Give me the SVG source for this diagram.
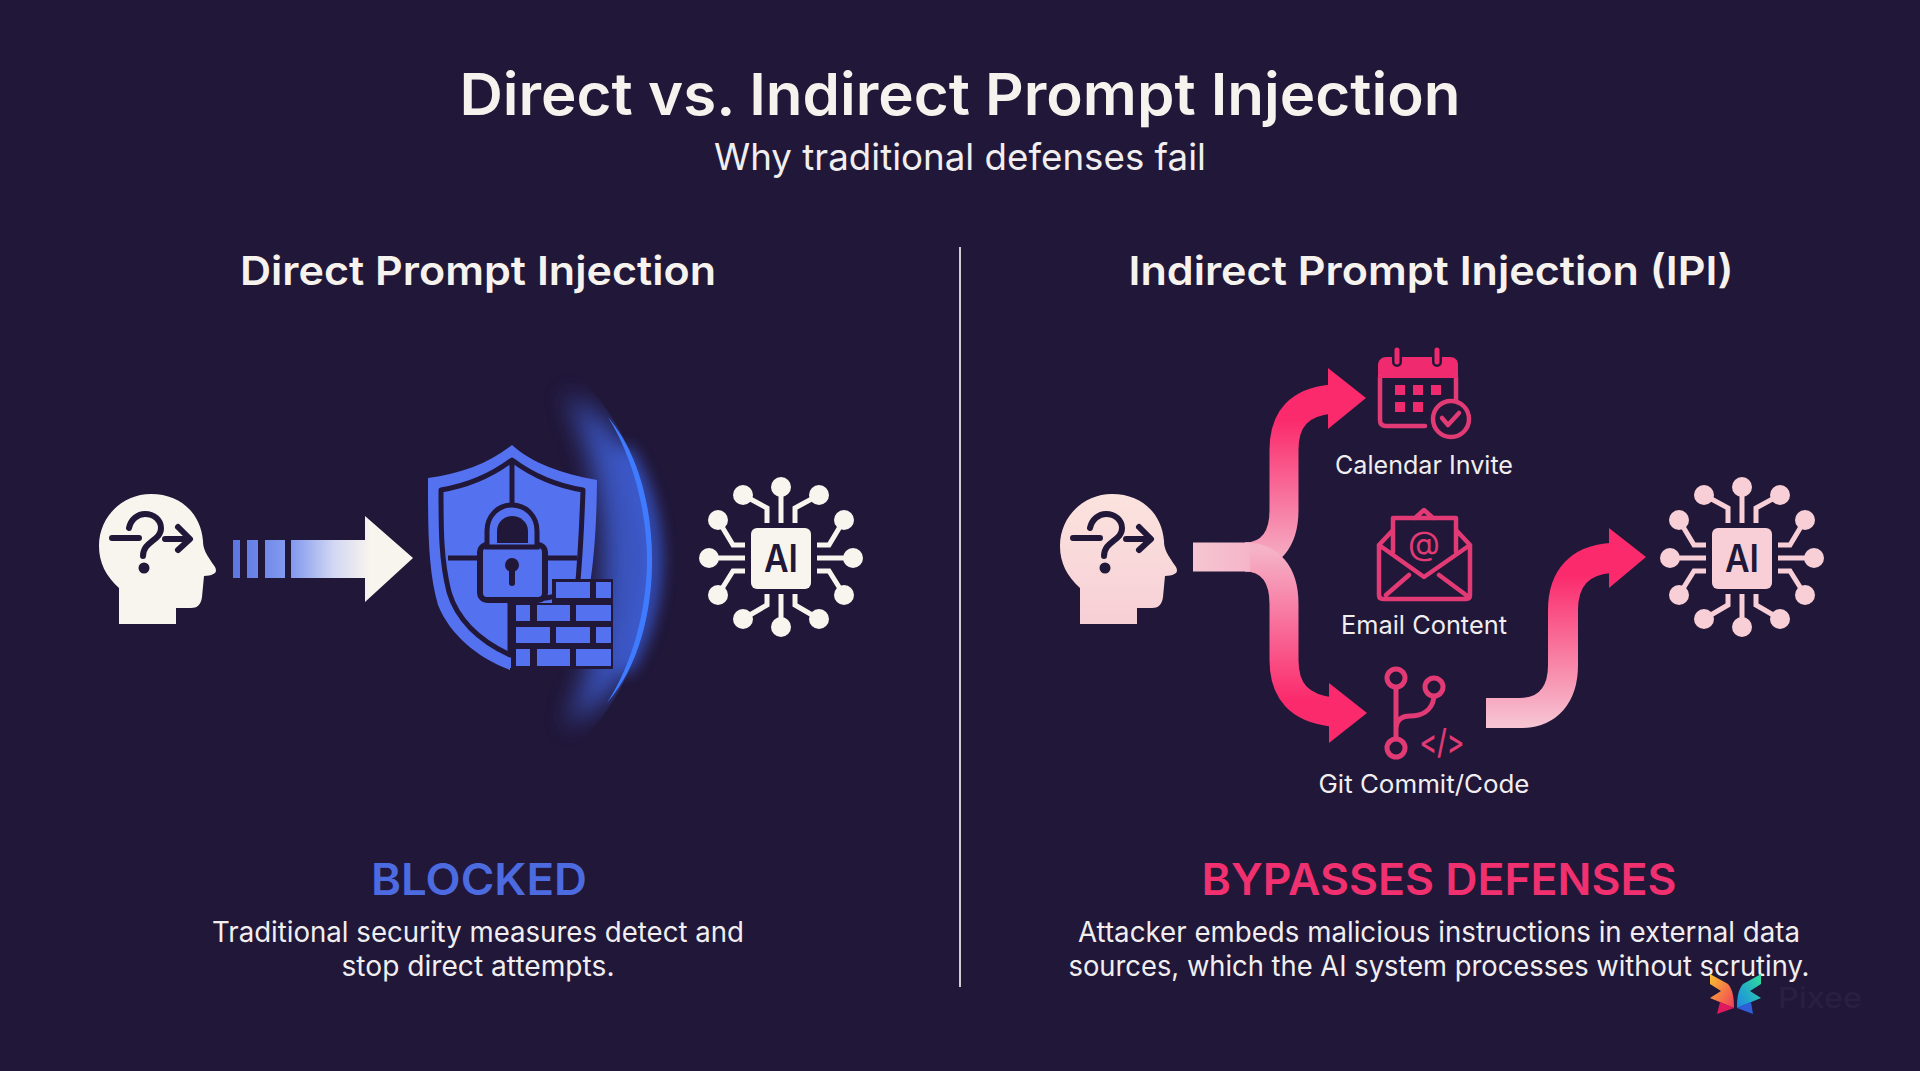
<svg xmlns="http://www.w3.org/2000/svg" width="1920" height="1071" viewBox="0 0 1920 1071">
<style>
text{font-family:Inter,"Liberation Sans",sans-serif;text-anchor:middle}
.t{fill:#f6f2ee;font-weight:600}
.s{fill:#f1eef0;font-weight:400}
.l{fill:#f1eef0;font-weight:400;font-size:25px}
.k{fill:none;stroke:#211738;stroke-linecap:round;stroke-linejoin:round}
.p{fill:none;stroke:#e23a74;stroke-width:4.500;stroke-linecap:round;stroke-linejoin:round}
.b{fill:#5471f0}
.d{fill:#211738}
</style>
<defs>
<path id="head" d="M119 624V588C106 576 99 563 99 546C99 516 123 494 151 494C181 494 201 514 203 541C203 549 206 554 215 567C218 573 214 575 204 576L202 597C201 605 197 608 191 608L176 608V624Z"/>
<g id="marks">
<path class="k" stroke-width="6" d="M112 538H139M129 528C131 519 138 514 145 514C154 514 161 520 161 528C161 541 143 541 143 556M165 539H189M178 527L190 539L178 550"/>
<circle class="d" cx="144" cy="568" r="5.500"/>
</g>
<g id="chip">
<g fill="none" stroke="currentColor" stroke-width="5">
<path d="M0-71V-35M-38-63L-14-50V-35M38-63L14-50V-35M-63-38L-48-13H-36M63-38L48-13H36M-72 0H-36M72 0H36M-63 37L-48 13H-36M63 37L48 13H36M-38 61L-14 47V36M38 61L14 47V36M0 69V36"/>
</g>
<g fill="currentColor">
<rect x="-30" y="-30" width="60" height="61" rx="6"/>
<circle cx="0" cy="-71" r="10"/><circle cx="-38" cy="-63" r="10"/><circle cx="38" cy="-63" r="10"/>
<circle cx="-63" cy="-38" r="10"/><circle cx="63" cy="-38" r="10"/><circle cx="-72" cy="0" r="10"/><circle cx="72" cy="0" r="10"/>
<circle cx="-63" cy="37" r="10"/><circle cx="63" cy="37" r="10"/><circle cx="-38" cy="61" r="10"/><circle cx="38" cy="61" r="10"/><circle cx="0" cy="69" r="10"/>
</g>
</g>
<linearGradient id="shaft" gradientUnits="userSpaceOnUse" x1="291" y1="0" x2="370" y2="0"><stop offset="0" stop-color="#8198ee"/><stop offset="0.55" stop-color="#d3d8f2"/><stop offset="1" stop-color="#f8f4ee"/></linearGradient>
<linearGradient id="stripes" gradientUnits="userSpaceOnUse" x1="233" y1="0" x2="285" y2="0"><stop offset="0" stop-color="#5b75e2"/><stop offset="1" stop-color="#8199ee"/></linearGradient>
<linearGradient id="headPink" x1="0" y1="0" x2="0" y2="1"><stop offset="0" stop-color="#fbe3de"/><stop offset="1" stop-color="#f7cfd6"/></linearGradient>
<linearGradient id="up" gradientUnits="userSpaceOnUse" x1="0" y1="565" x2="0" y2="420"><stop offset="0" stop-color="#f5b3c8"/><stop offset="1" stop-color="#fb2a6c"/></linearGradient>
<linearGradient id="down" gradientUnits="userSpaceOnUse" x1="0" y1="550" x2="0" y2="700"><stop offset="0" stop-color="#f5b3c8"/><stop offset="1" stop-color="#fb2a6c"/></linearGradient>
<linearGradient id="stem" gradientUnits="userSpaceOnUse" x1="1193" y1="0" x2="1250" y2="0"><stop offset="0" stop-color="#f6c6d2"/><stop offset="1" stop-color="#f5b5c9"/></linearGradient>
<linearGradient id="out" gradientUnits="userSpaceOnUse" x1="0" y1="725" x2="0" y2="575"><stop offset="0" stop-color="#f6c4d2"/><stop offset="1" stop-color="#fb2a6c"/></linearGradient>
<linearGradient id="wl" x1="0" y1="0" x2="1" y2="1"><stop offset="0" stop-color="#f8c32c"/><stop offset="1" stop-color="#f23a5c"/></linearGradient>
<linearGradient id="wr" x1="1" y1="0" x2="0" y2="1"><stop offset="0" stop-color="#2fe09a"/><stop offset="1" stop-color="#1c86e6"/></linearGradient>
<clipPath id="inside"><path d="M540 360H560C625 410 652 490 652 560C652 630 625 710 560 760H540Z"/></clipPath>
<filter id="b14" x="-80%" y="-20%" width="260%" height="140%"><feGaussianBlur stdDeviation="13"/></filter>
<filter id="b8" x="-150%" y="-20%" width="400%" height="140%"><feGaussianBlur stdDeviation="8"/></filter>
</defs>

<rect id="background" width="1920" height="1071" fill="#211738"/>

<g id="title">
<text class="t" x="960" y="115" font-size="58" textLength="1001" lengthAdjust="spacingAndGlyphs">Direct vs. Indirect Prompt Injection</text>
<text class="s" x="960" y="170" font-size="37" textLength="492" lengthAdjust="spacingAndGlyphs">Why traditional defenses fail</text>
</g>
<line id="divider" x1="960" y1="247" x2="960" y2="987" stroke="#cfccd6" stroke-width="2"/>

<g id="direct-heading"><text class="t" x="478" y="285" font-size="40" textLength="476" lengthAdjust="spacingAndGlyphs">Direct Prompt Injection</text></g>
<g id="indirect-heading"><text class="t" x="1431" y="285" font-size="40" textLength="605" lengthAdjust="spacingAndGlyphs">Indirect Prompt Injection (IPI)</text></g>

<g id="attacker-left">
<use href="#head" fill="#f8f4ee"/><use href="#marks"/>
</g>

<g id="connectors">
<g id="direct-arrow">
<path fill="url(#stripes)" d="M233 540h7v38h-7zM247 540h11v38h-11zM265 540h20v38h-20z"/>
<path fill="url(#shaft)" d="M291 540H365V516L413 558L365 602V578H291Z"/>
</g>
<g id="fork-arrows" fill="none" stroke-width="29">
<path stroke="url(#up)" d="M1245 557C1270 557 1284 540 1284 510V450C1284 418 1300 402 1332 399"/>
<path stroke="url(#down)" d="M1245 557C1270 557 1284 574 1284 604V660C1284 692 1300 708 1332 712"/>
<path stroke="url(#stem)" d="M1193 557H1250"/>
<path fill="#fb2a6c" stroke="none" d="M1328 368L1366 398L1328 429Z"/>
<path fill="#fb2a6c" stroke="none" d="M1329 683L1367 713L1329 743Z"/>
</g>
<g id="out-arrow" fill="none">
<path stroke="url(#out)" stroke-width="30" d="M1486 713H1520C1548 713 1563 695 1563 665V610C1563 578 1580 560 1611 558"/>
<path fill="#fb2a6c" d="M1609 528L1646 557L1609 588Z"/>
</g>
</g>

<g id="shield">
<path d="M622 450C644 485 653 525 653 560C653 595 644 635 622 670" fill="none" stroke="#3a62e8" stroke-width="16" opacity="0.85" filter="url(#b8)"/>
<g clip-path="url(#inside)">
<path d="M565 392C630 435 672 495 672 560C672 625 630 685 565 728C590 680 603 620 603 560C603 500 590 440 565 392Z" fill="#3f60d8" opacity="0.85" filter="url(#b14)"/>
</g>
<path d="M608 417C640 455 652 510 652 560C652 610 640 665 607 703C632 665 647 610 647 560C647 510 632 455 608 417Z" fill="#3f7bff"/>
<path class="b" d="M512 445C490 463 460 474 428 478C428 530 428 570 438 605C450 635 478 658 510 670V668H540C572 668 596 620 597 480C562 474 532 463 512 445Z"/>
<path d="M512 460C492 475 466 486 441 490C441 530 441 560 449 592C458 622 482 642 510 655V598H546L577 592C580 560 582 520 583 490C558 486 532 475 512 460Z" fill="#5471f0" stroke="#211738" stroke-width="5" stroke-linejoin="round"/>
<path d="M512 460V505M448 558H478M547 558H577" stroke="#211738" stroke-width="5" fill="none"/>
<path class="d" d="M511 603H613V669H511ZM552 579H613V604H552Z"/>
<path class="b" d="M556 582h34v16h-34zM596 582h15v16h-15zM516 605h14v16h-14zM537 605h33v16h-33zM576 605h35v16h-35zM516 627h34v16h-34zM556 627h34v16h-34zM596 627h15v16h-15zM516 649h14v17h-14zM537 649h33v17h-33zM576 649h35v17h-35z"/>
<rect class="b" x="480" y="545" width="65" height="55" rx="7" stroke="#211738" stroke-width="6"/>
<path class="b" stroke="#211738" stroke-width="5" d="M487 547V531C487 516 498 505 512 505C526 505 537 516 537 531V547Z"/>
<path class="d" d="M497 543V531C497 522 504 516 512 516C520 516 528 522 528 531V543Z"/>
<circle class="d" cx="512" cy="565" r="7"/>
<path d="M512 567V583" stroke="#211738" stroke-width="6" stroke-linecap="round"/>
</g>

<g id="ai-left" color="#f8f4ee">
<use href="#chip" x="781" y="558"/>
<text x="781" y="572" font-size="38" font-weight="600" fill="#211738" textLength="34" lengthAdjust="spacingAndGlyphs">AI</text>
</g>

<g id="attacker-right">
<use href="#head" x="961" fill="url(#headPink)"/><use href="#marks" x="961"/>
</g>

<g id="calendar">
<path d="M1378 377V365C1378 360 1382 357 1386 357H1450C1455 357 1458 360 1458 365V377Z" fill="#f02a6e"/>
<path class="p" d="M1380 377V420C1380 424 1382 426 1386 426H1425M1456 377V400"/>
<path d="M1378 377H1458" stroke="#f02a6e" stroke-width="2"/>
<path d="M1397 350V362M1437 350V362" stroke="#211738" stroke-width="10" stroke-linecap="round"/>
<path d="M1397 350V362M1437 350V362" stroke="#f02a6e" stroke-width="5" stroke-linecap="round"/>
<path fill="#f02a6e" d="M1395 385h10v10h-10zM1413 385h10v10h-10zM1431 385h10v10h-10zM1395 402h10v10h-10zM1413 402h10v10h-10z"/>
<circle cx="1451" cy="419" r="18" fill="#211738" stroke="#e23a74" stroke-width="4.500"/>
<path class="p" d="M1442 418L1448 425L1459 413"/>
<text class="l" x="1424" y="474" textLength="178" lengthAdjust="spacingAndGlyphs">Calendar Invite</text>
</g>

<g id="email">
<path class="p" d="M1379 545V595C1379 598 1381 599 1383 599H1466C1469 599 1470 598 1470 595V545M1379 545L1424 577L1470 545M1386 595L1409 575M1439 575L1466 595M1393 552V518H1456V552M1379 545L1393 530M1470 545L1456 530M1415 518L1424 510L1433 518"/>
<text x="1424" y="555" font-size="33" fill="#e23a74" font-weight="400">@</text>
<text class="l" x="1424" y="634" textLength="166" lengthAdjust="spacingAndGlyphs">Email Content</text>
</g>

<g id="git">
<g class="p" style="stroke-width:5">
<circle cx="1396" cy="678" r="9"/>
<circle cx="1434" cy="687" r="9"/>
<circle cx="1396" cy="748" r="9"/>
<path d="M1396 688V738M1434 697C1432 712 1420 716 1410 716C1400 716 1396 722 1396 728"/>
</g>
<text x="1442" y="754" font-size="34" font-weight="500" fill="#e23a74" textLength="45" lengthAdjust="spacingAndGlyphs">&lt;/&gt;</text>
<text class="l" x="1424" y="793" textLength="211" lengthAdjust="spacingAndGlyphs">Git Commit/Code</text>
</g>

<g id="ai-right" color="#f8cfd6">
<use href="#chip" x="1742" y="558"/>
<text x="1742" y="572" font-size="38" font-weight="600" fill="#211738" textLength="34" lengthAdjust="spacingAndGlyphs">AI</text>
</g>

<g id="blocked">
<text x="479" y="895" font-size="44" font-weight="600" fill="#4d6be0" textLength="216" lengthAdjust="spacingAndGlyphs">BLOCKED</text>
<text class="s" x="478" y="942" font-size="28" textLength="532" lengthAdjust="spacingAndGlyphs">Traditional security measures detect and</text>
<text class="s" x="478" y="976" font-size="28" textLength="273" lengthAdjust="spacingAndGlyphs">stop direct attempts.</text>
</g>

<g id="bypasses">
<text x="1439" y="895" font-size="44" font-weight="600" fill="#f0306f" textLength="475" lengthAdjust="spacingAndGlyphs">BYPASSES DEFENSES</text>
<text class="s" x="1439" y="942" font-size="28" textLength="722" lengthAdjust="spacingAndGlyphs">Attacker embeds malicious instructions in external data</text>
<text class="s" x="1439" y="976" font-size="28" textLength="741" lengthAdjust="spacingAndGlyphs">sources, which the AI system processes without scrutiny.</text>
</g>

<g id="logo">
<path fill="url(#wl)" d="M1710 974L1728 984C1733 990 1734 998 1734 1008L1710 998L1721 991L1710 984Z"/>
<path fill="#e0195f" d="M1734 1008L1720 1002L1717 1014Z"/>
<path fill="url(#wr)" d="M1761 974L1743 984C1738 990 1737 998 1737 1008L1761 998L1750 991L1761 984Z"/>
<path fill="#2f5fd8" d="M1737 1008L1751 1002L1753 1014Z"/>
<text x="1820" y="1008" font-size="28" font-weight="500" fill="#282040" textLength="84" lengthAdjust="spacingAndGlyphs">Pixee</text>
</g>
</svg>
